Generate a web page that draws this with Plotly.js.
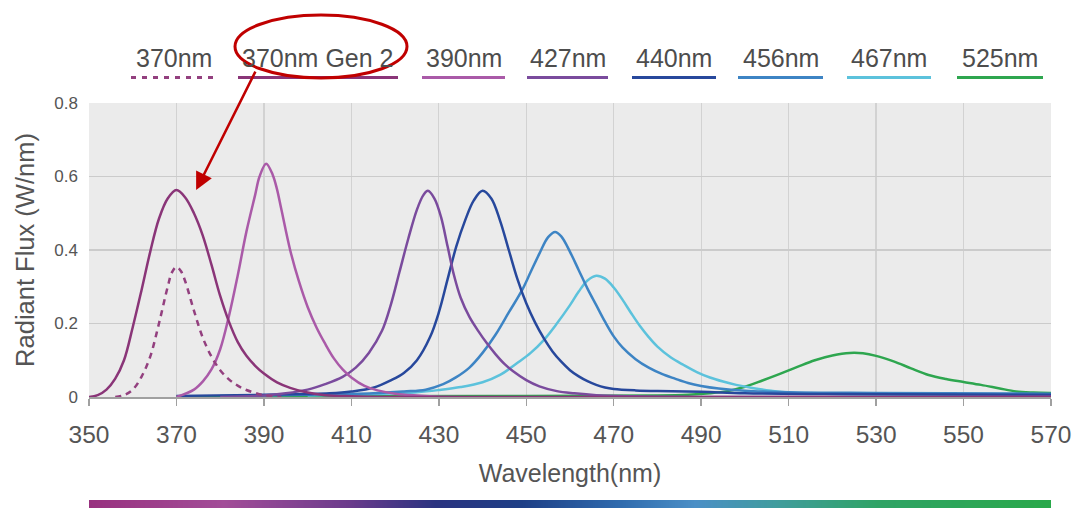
<!DOCTYPE html>
<html>
<head>
<meta charset="utf-8">
<script src="https://cdn.plot.ly/plotly-3.0.1.min.js"></script>
<style>html,body{margin:0;padding:0;background:#fff;}#chart{width:1074px;height:508px;}</style>
</head>
<body>
<div id="chart"></div>
<script>
// ---- DATA ----
const seriesNames = ["370nm", "370nm Gen 2", "390nm", "427nm", "440nm", "456nm", "467nm", "525nm"];

const x370 = [356, 358, 360, 362, 364, 366, 368, 369, 370, 371, 372, 374, 376, 378, 380, 382, 384, 386, 388, 390, 394];
const y370 = [0, 0.005, 0.02, 0.055, 0.11, 0.2, 0.3, 0.34, 0.354, 0.343, 0.315, 0.235, 0.162, 0.11, 0.073, 0.048, 0.031, 0.019, 0.011, 0.005, 0];

const x370g2 = [350, 352, 354, 356, 358, 360, 362, 364, 366, 368, 370, 372, 374, 376, 378, 380, 382, 384, 386, 388, 390, 393, 396, 400, 404, 410, 420, 570];
const y370g2 = [0, 0.005, 0.02, 0.05, 0.1, 0.19, 0.29, 0.395, 0.485, 0.54, 0.563, 0.543, 0.5, 0.44, 0.36, 0.275, 0.205, 0.15, 0.112, 0.085, 0.064, 0.04, 0.025, 0.012, 0.005, 0.002, 0, 0];

const x390 = [370, 374, 376, 378, 380, 382, 384, 386, 388, 389, 390.5, 392, 393, 394, 396, 398, 400, 402, 404, 406, 408, 410, 413, 416, 420, 425, 430, 570];
const y390 = [0, 0.02, 0.042, 0.075, 0.13, 0.22, 0.33, 0.45, 0.55, 0.6, 0.635, 0.605, 0.565, 0.51, 0.4, 0.315, 0.245, 0.19, 0.145, 0.105, 0.075, 0.053, 0.03, 0.018, 0.009, 0.004, 0.001, 0];

const x427 = [380, 390, 395, 400, 404, 408, 411, 414, 417, 419, 421, 423, 425, 426.5, 427.5, 429, 430.5, 432, 433.5, 435, 437, 439, 441, 443, 445, 447, 450, 453, 457, 461, 466, 475, 490, 570];
const y427 = [0, 0.004, 0.01, 0.02, 0.035, 0.055, 0.08, 0.12, 0.18, 0.25, 0.34, 0.43, 0.51, 0.55, 0.561, 0.54, 0.49, 0.41, 0.33, 0.27, 0.218, 0.18, 0.146, 0.116, 0.09, 0.07, 0.046, 0.029, 0.016, 0.01, 0.005, 0.002, 0, 0];

const x440 = [370, 390, 400, 405, 410, 415, 419, 422, 425, 428, 430, 432, 434, 436, 438, 440, 442, 444, 446, 448, 450, 452, 454, 456, 458, 460, 462, 464, 466, 468, 470, 475, 480, 490, 500, 520, 570];
const y440 = [0.003, 0.006, 0.008, 0.01, 0.015, 0.025, 0.045, 0.065, 0.1, 0.163, 0.23, 0.32, 0.41, 0.48, 0.535, 0.561, 0.54, 0.48, 0.4, 0.32, 0.255, 0.203, 0.16, 0.124, 0.096, 0.073, 0.056, 0.043, 0.033, 0.026, 0.022, 0.018, 0.016, 0.014, 0.01, 0.008, 0.006];

const x456 = [380, 400, 415, 422, 427, 431, 434, 437, 440, 443, 446, 449, 451, 453, 455, 456.6, 458, 460, 462, 464, 466, 468, 470, 472, 475, 478, 481, 484, 487, 490, 494, 500, 510, 530, 570];
const y456 = [0.003, 0.006, 0.01, 0.015, 0.02, 0.035, 0.054, 0.08, 0.12, 0.17, 0.23, 0.29, 0.34, 0.39, 0.435, 0.449, 0.437, 0.395, 0.345, 0.295, 0.25, 0.205, 0.165, 0.135, 0.103, 0.08, 0.063, 0.05, 0.038, 0.03, 0.023, 0.017, 0.013, 0.011, 0.009];

const x467 = [400, 415, 425, 430, 435, 440, 444, 448, 451, 454, 457, 460, 462, 464, 466, 468, 470, 472, 474, 476, 478, 480, 483, 486, 489, 492, 495, 498, 502, 506, 510, 520, 540, 570];
const y467 = [0.004, 0.008, 0.013, 0.019, 0.027, 0.04, 0.06, 0.093, 0.12, 0.155, 0.2, 0.25, 0.287, 0.317, 0.33, 0.322, 0.298, 0.265, 0.228, 0.193, 0.163, 0.137, 0.108, 0.087, 0.068, 0.053, 0.042, 0.033, 0.024, 0.017, 0.012, 0.008, 0.006, 0.005];

const x525 = [370, 450, 480, 487, 492, 496, 500, 504, 508, 512, 516, 520, 524, 527, 530, 534, 538, 542, 546, 550, 554, 558, 562, 566, 570];
const y525 = [0.002, 0.003, 0.004, 0.006, 0.01, 0.016, 0.028, 0.045, 0.063, 0.082, 0.1, 0.113, 0.12, 0.119, 0.112, 0.097, 0.078, 0.06, 0.049, 0.041, 0.033, 0.024, 0.015, 0.012, 0.011];

const xTickVals = [350, 370, 390, 410, 430, 450, 470, 490, 510, 530, 550, 570];
const yTickVals = [0, 0.2, 0.4, 0.6, 0.8];
const yTickText = ["0", "0.2", "0.4", "0.6", "0.8"];
const spectrumNm = [350, 360, 370, 380, 390, 400, 410, 420, 430, 440, 450, 460, 470, 480, 490, 500, 510, 520, 530, 540, 550, 560, 570];

// ---- STYLE ----
const colors = ["#93407f", "#8a3578", "#aa5aa8", "#7a4b9d", "#27489c", "#3d84c4", "#5cc2dc", "#2ea64f"];
const FONT = "Liberation Sans, Arial, Helvetica, sans-serif";
const W = 1074, H = 508, ML = 89, MR = 23, MT = 103, MB = 0;
const PW = W - ML - MR, PH = H - MT - MB;
const px2x = p => (p - ML) / PW;
const py2y = p => (H - MB - p) / PH;

const xs = [x370, x370g2, x390, x427, x440, x456, x467, x525];
const ys = [y370, y370g2, y390, y427, y440, y456, y467, y525];

const traces = [];
// spectrum bar (heatmap on its own axis)
traces.push({
  type: "heatmap", x: spectrumNm, y: [0], z: [spectrumNm], xaxis: "x2", yaxis: "y2",
  showscale: false, hoverinfo: "skip", zsmooth: "best",
  colorscale: [[0, "#98317f"], [0.14, "#a24d98"], [0.27, "#6b3b8c"], [0.36, "#2a3380"], [0.45, "#1e3f86"],
               [0.55, "#2f6aad"], [0.63, "#4b8fc6"], [0.72, "#3f9d9a"], [0.82, "#2fa365"], [1, "#29a84a"]]
});
const order = [7, 6, 5, 4, 3, 2, 0, 1];
order.forEach(i => {
  traces.push({
    type: "scatter", mode: "lines", name: seriesNames[i], x: xs[i], y: ys[i],
    line: { color: colors[i], width: 2.5, dash: i === 0 ? "6px,5px" : "solid", shape: "spline", smoothing: 1 },
    showlegend: false, hoverinfo: "x+y+name"
  });
});

// legend emulation (text above a line sample)
const legLines = [[131, 216], [238, 398], [422, 505], [527, 608], [632, 716], [738, 823], [847, 931], [957, 1043]];
const shapes = [];
const annotations = [];
legLines.forEach((l, i) => {
  shapes.push({
    type: "line", xref: "paper", yref: "paper", x0: px2x(l[0]), x1: px2x(l[1]), y0: py2y(77.5), y1: py2y(77.5),
    line: { color: colors[i], width: 3, dash: i === 0 ? "5px,6px" : "solid" }
  });
  annotations.push({
    xref: "paper", yref: "paper", x: px2x((l[0] + l[1]) / 2), y: py2y(58), xanchor: "center", yanchor: "middle",
    text: seriesNames[i], showarrow: false, font: { family: FONT, size: 25, color: "#4d4d4d" }
  });
});
shapes.push({
  type: "circle", xref: "paper", yref: "paper", x0: px2x(235), x1: px2x(407), y0: py2y(78), y1: py2y(15),
  line: { color: "#c00000", width: 3 }
});
annotations.push({
  xref: "x", yref: "y", x: 374.5, y: 0.563, ax: 60, ay: -120, axref: "pixel", ayref: "pixel",
  text: "", showarrow: true, arrowhead: 2, arrowsize: 1.4, arrowwidth: 2.5, arrowcolor: "#c00000", standoff: 0
});

const layout = {
  width: W, height: H,
  margin: { l: ML, r: MR, t: MT, b: MB, pad: 0 },
  paper_bgcolor: "#ffffff", plot_bgcolor: "#ebebeb",
  showlegend: false,
  font: { family: FONT, color: "#555555" },
  xaxis: {
    range: [350, 570], tickvals: xTickVals, ticks: "outside", ticklen: 7, tickwidth: 1.5, tickcolor: "#a0a0a0",
    showline: true, linecolor: "#a0a0a0", linewidth: 2, showgrid: true, gridcolor: "#d2d2d2", gridwidth: 1.2,
    zeroline: false, tickfont: { family: FONT, size: 24.5, color: "#555555" }, ticklabelstandoff: 8,
    title: { text: "Wavelength(nm)", font: { family: FONT, size: 25, color: "#555555" }, standoff: 17 },
    anchor: "y", fixedrange: true
  },
  yaxis: {
    domain: [py2y(397), 1], range: [0, 0.8], tickvals: yTickVals, ticktext: yTickText, ticks: "",
    showgrid: true, gridcolor: "#cbcbcb", gridwidth: 1.5, zeroline: false, showline: false,
    tickfont: { family: FONT, size: 17, color: "#555555" }, ticklabelstandoff: 10,
    title: { text: "Radiant Flux (W/nm)", font: { family: FONT, size: 25.5, color: "#555555" }, standoff: 12 },
    anchor: "x", fixedrange: true
  },
  xaxis2: { range: [350, 570], anchor: "y2", visible: false, fixedrange: true },
  yaxis2: { domain: [0, py2y(500)], visible: false, range: [-0.5, 0.5], fixedrange: true },
  shapes: shapes, annotations: annotations
};

Plotly.newPlot("chart", traces, layout, { displayModeBar: false, staticPlot: true });
</script>
</body>
</html>
